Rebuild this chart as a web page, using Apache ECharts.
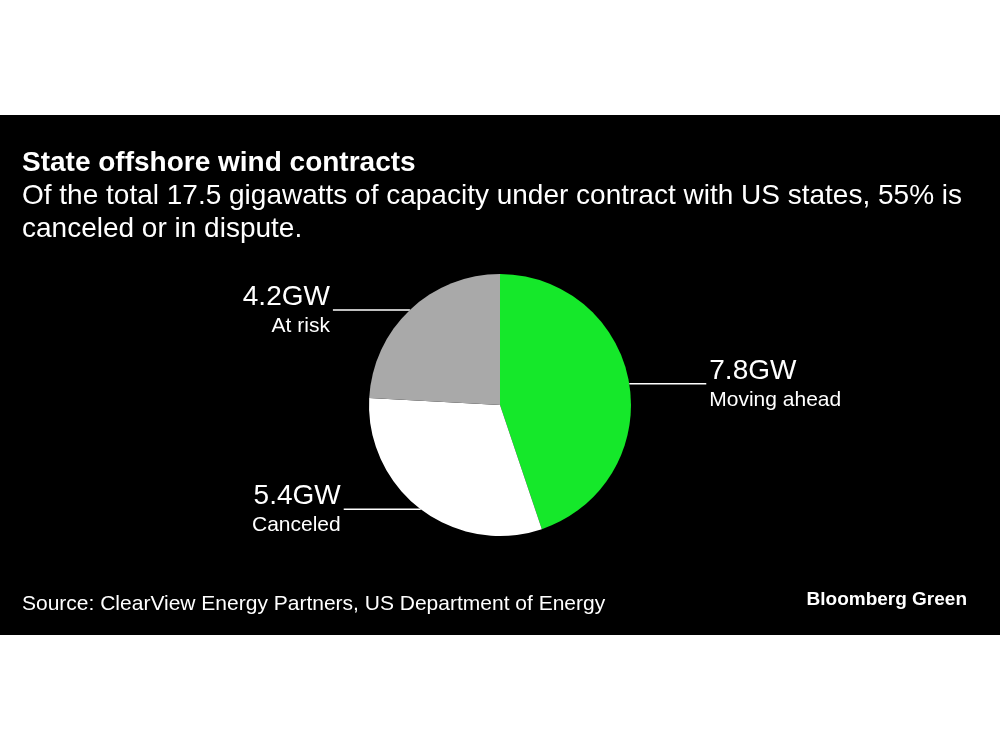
<!DOCTYPE html>
<html><head><meta charset="utf-8">
<script src="https://cdn.jsdelivr.net/npm/echarts@6/dist/echarts.min.js"></script>
<style>html,body{margin:0;padding:0;background:#fff}#c{width:1000px;height:750px}</style>
</head><body><div id="c"></div>
<script>
const categories = ['Moving ahead', 'Canceled', 'At risk'];
const values = [7.8, 5.4, 4.2];
const valueLabels = ['7.8GW', '5.4GW', '4.2GW'];
const colors = ['#15e82a', '#ffffff', '#a9a9a9'];
const titleText = 'State offshore wind contracts';
const subtitleText = 'Of the total 17.5 gigawatts of capacity under contract with US states, 55% is\ncanceled or in dispute.';
const sourceText = 'Source: ClearView Energy Partners, US Department of Energy';
const brandText = 'Bloomberg Green';

const FONT = '"Liberation Sans", Arial, sans-serif';
const chart = echarts.init(document.getElementById('c'));
chart.setOption({
  backgroundColor: '#ffffff',
  animation: false,
  graphic: [{
    type: 'rect', z: -10, silent: true,
    shape: { x: 0, y: 115, width: 1000, height: 520 },
    style: { fill: '#000000' }
  }],
  title: [
    { text: titleText, left: 22, top: 149, padding: 0,
      textStyle: { color: '#fff', fontSize: 28, fontWeight: 'bold', lineHeight: 28, fontFamily: FONT } },
    { text: subtitleText, left: 22, top: 180, padding: 0,
      textStyle: { color: '#fff', fontSize: 28, fontWeight: 'normal', lineHeight: 33, fontFamily: FONT } },
    { text: sourceText, left: 22, top: 594, padding: 0,
      textStyle: { color: '#fff', fontSize: 21, fontWeight: 'normal', lineHeight: 21, fontFamily: FONT } },
    { text: brandText, right: 33, top: 590, padding: 0,
      textStyle: { color: '#fff', fontSize: 19, fontWeight: 'bold', lineHeight: 19, fontFamily: FONT } }
  ],
  series: [{
    type: 'pie',
    center: [500, 405],
    radius: [0, 131],
    startAngle: 90,
    clockwise: true,
    silent: true,
    data: categories.map((c, i) => ({ name: c, value: values[i], itemStyle: { color: colors[i] } })),
    label: {
      show: true,
      position: 'outside',
      distanceToLabelLine: 3,
      formatter: p => '{v|' + valueLabels[p.dataIndex] + '}\n{n|' + p.name + '}',
      rich: {
        v: { color: '#fff', fontSize: 28, fontFamily: FONT, lineHeight: 32 },
        n: { color: '#fff', fontSize: 21, fontFamily: FONT, lineHeight: 26 }
      }
    },
    labelLine: {
      show: true, length: 0, length2: 77,
      lineStyle: { color: '#fff', width: 1.5 }
    }
  }]
});
</script></body></html>
